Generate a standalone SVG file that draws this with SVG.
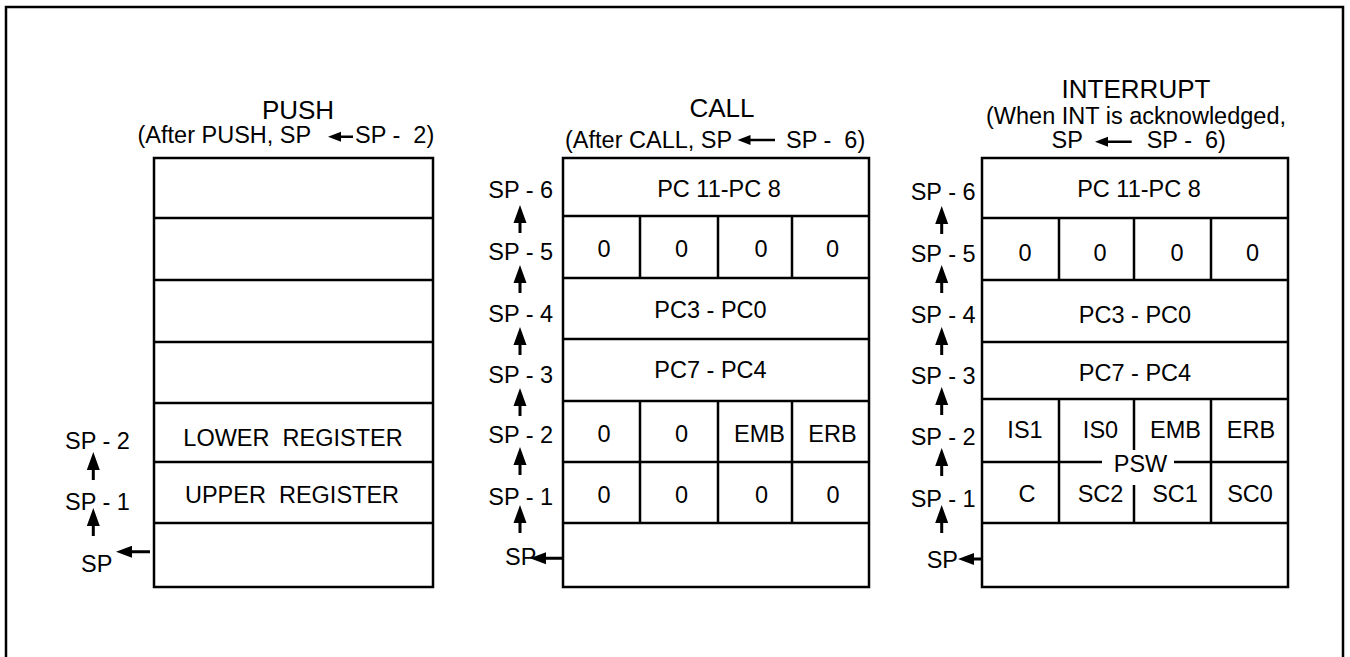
<svg xmlns="http://www.w3.org/2000/svg" xmlns:xlink="http://www.w3.org/1999/xlink" width="1350" height="657" viewBox="0 0 1350 657">
<style>
.ln{fill:none;stroke:#000;stroke-width:2.5}
.t{font-family:"Liberation Sans",Arial,Helvetica,sans-serif;font-size:23.5px;fill:#000}
.ti{font-size:26px}
.c{text-anchor:middle}
.ar{fill:#000;stroke:none}
</style>
<defs>
<path id="up" d="M0,0 L6.5,18 L1.5,18 L1.5,28 L-1.5,28 L-1.5,18 L-6.5,18 Z"/>
</defs>
<rect width="1350" height="657" fill="#fff"/>
<path class="ln" d="M6,670 V7 H1343 V670"/>

<g id="push">
<text class="t ti c" x="298" y="119">PUSH</text>
<text class="t" x="137.5" y="143">(After PUSH, SP</text>
<path class="ar" d="M328,136.7 L341,131.7 L341,135.5 L353,135.5 L353,137.9 L341,137.9 L341,141.7 Z"/>
<text class="t" x="355" y="143" xml:space="preserve">SP -  2)</text>
<rect class="ln" x="154" y="158" width="279" height="429"/>
<path class="ln" d="M154,218H433M154,280H433M154,342H433M154,403H433M154,462H433M154,523H433"/>
<text class="t c" x="293" y="446" xml:space="preserve">LOWER  REGISTER</text>
<text class="t c" x="292" y="503" xml:space="preserve">UPPER  REGISTER</text>
<text class="t" x="65" y="449">SP - 2</text>
<text class="t" x="65" y="510">SP - 1</text>
<text class="t" x="81" y="572">SP</text>
</g>

<g id="call">
<text class="t ti c" x="722" y="117">CALL</text>
<text class="t" x="565" y="147.5">(After CALL, SP</text>
<path class="ar" d="M737.5,140 L750.5,135 L750.5,138.8 L775,138.8 L775,141.2 L750.5,141.2 L750.5,145 Z"/>
<text class="t" x="786" y="147.5" xml:space="preserve">SP -  6)</text>
<rect class="ln" x="563" y="158" width="306" height="429"/>
<path class="ln" d="M563,216H869M563,278H869M563,339H869M563,401H869M563,462H869M563,523H869"/>
<path class="ln" d="M640,216V278M718,216V278M792,216V278M640,401V523M718,401V523M792,401V523"/>
<text class="t c" x="719" y="197">PC 11-PC 8</text>
<text class="t c" x="604" y="257">0</text>
<text class="t c" x="681.5" y="257">0</text>
<text class="t c" x="761" y="257">0</text>
<text class="t c" x="832.5" y="257">0</text>
<text class="t c" x="710.5" y="318">PC3 - PC0</text>
<text class="t c" x="710.5" y="378">PC7 - PC4</text>
<text class="t c" x="604" y="442">0</text>
<text class="t c" x="681.5" y="442">0</text>
<text class="t c" x="759.5" y="442">EMB</text>
<text class="t c" x="832.5" y="442">ERB</text>
<text class="t c" x="604" y="503">0</text>
<text class="t c" x="681.5" y="503">0</text>
<text class="t c" x="761.5" y="503">0</text>
<text class="t c" x="833" y="503">0</text>
<text class="t" x="488.3" y="198">SP - 6</text>
<text class="t" x="488.3" y="260">SP - 5</text>
<text class="t" x="488.3" y="322">SP - 4</text>
<text class="t" x="488.3" y="383">SP - 3</text>
<text class="t" x="488.3" y="443">SP - 2</text>
<text class="t" x="488.3" y="505">SP - 1</text>
<text class="t" x="505" y="565">SP</text>
</g>

<g id="interrupt">
<text class="t ti c" x="1136" y="98">INTERRUPT</text>
<text class="t" x="986" y="123.5">(When INT is acknowledged,</text>
<text class="t" x="1051.5" y="148">SP</text>
<path class="ar" d="M1095,141.7 L1108,136.7 L1108,140.5 L1131.7,140.5 L1131.7,142.9 L1108,142.9 L1108,146.7 Z"/>
<text class="t" x="1146.7" y="148" xml:space="preserve">SP -  6)</text>
<rect class="ln" x="982" y="158" width="306" height="429"/>
<path class="ln" d="M982,218H1288M982,280H1288M982,342H1288M982,399H1288M982,462H1102M1174,462H1288M982,523H1288"/>
<path class="ln" d="M1059,218V280M1134,218V280M1211,218V280M1059,399V523M1211,399V523M1134,399V450M1134,485V523"/>
<text class="t c" x="1139" y="197">PC 11-PC 8</text>
<text class="t c" x="1025" y="261">0</text>
<text class="t c" x="1100" y="261">0</text>
<text class="t c" x="1177" y="261">0</text>
<text class="t c" x="1252.5" y="261">0</text>
<text class="t c" x="1135" y="323">PC3 - PC0</text>
<text class="t c" x="1135" y="381">PC7 - PC4</text>
<text class="t c" x="1025" y="438">IS1</text>
<text class="t c" x="1100.5" y="438">IS0</text>
<text class="t c" x="1175.5" y="438">EMB</text>
<text class="t c" x="1251" y="438">ERB</text>
<text class="t c" x="1140.5" y="471.5">PSW</text>
<text class="t c" x="1027" y="502">C</text>
<text class="t c" x="1100.5" y="502">SC2</text>
<text class="t c" x="1175" y="502">SC1</text>
<text class="t c" x="1250" y="502">SC0</text>
<text class="t" x="910.7" y="200">SP - 6</text>
<text class="t" x="910.7" y="262">SP - 5</text>
<text class="t" x="910.7" y="323">SP - 4</text>
<text class="t" x="910.7" y="384">SP - 3</text>
<text class="t" x="910.7" y="445">SP - 2</text>
<text class="t" x="910.7" y="507">SP - 1</text>
<text class="t" x="926.7" y="568">SP</text>
</g>

<g id="connectors">
<use xlink:href="#up" class="ar" x="93.3" y="452"/>
<use xlink:href="#up" class="ar" x="93.3" y="508"/>
<path class="ar" d="M116,551.7 L132,545.7 L132,550.2 L150,550.2 L150,553.2 L132,553.2 L132,557.7 Z"/>
<use xlink:href="#up" class="ar" x="520" y="205"/>
<use xlink:href="#up" class="ar" x="520" y="265"/>
<use xlink:href="#up" class="ar" x="520" y="327"/>
<use xlink:href="#up" class="ar" x="520" y="388"/>
<use xlink:href="#up" class="ar" x="520" y="447"/>
<use xlink:href="#up" class="ar" x="520" y="505"/>
<path class="ar" d="M530,558.3 L546,552.3 L546,556.8 L562,556.8 L562,559.8 L546,559.8 L546,564.3 Z"/>
<use xlink:href="#up" class="ar" x="941.7" y="206"/>
<use xlink:href="#up" class="ar" x="941.7" y="265"/>
<use xlink:href="#up" class="ar" x="941.7" y="327"/>
<use xlink:href="#up" class="ar" x="941.7" y="387"/>
<use xlink:href="#up" class="ar" x="941.7" y="448"/>
<use xlink:href="#up" class="ar" x="941.7" y="505"/>
<path class="ar" d="M958,559 L974,553 L974,557.5 L982,557.5 L982,560.5 L974,560.5 L974,565 Z"/>
</g>
</svg>
